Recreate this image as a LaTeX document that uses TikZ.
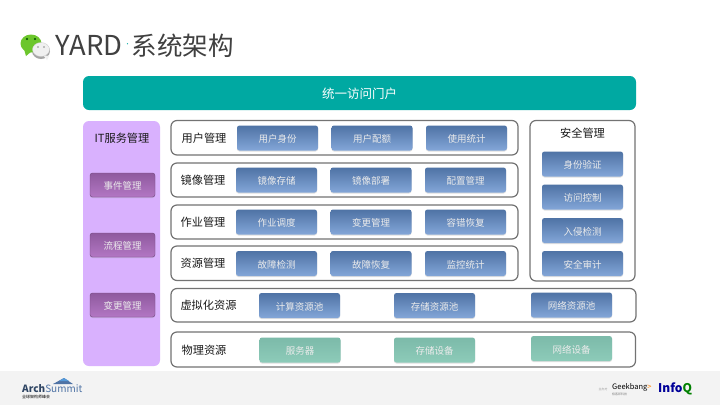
\documentclass[tikz,border=0pt]{standalone}
\usepackage{fontspec}
\setmainfont{Noto Sans CJK SC}
\usetikzlibrary{shadows}
\definecolor{tealbar}{HTML}{00A9A2}
\definecolor{lilac}{HTML}{D9B1FE}
\definecolor{footgray}{HTML}{F3F3F3}
\definecolor{titlegray}{HTML}{404040}
\definecolor{blue1}{HTML}{4F73A5}
\definecolor{blue2}{HTML}{83A6D8}
\definecolor{green1}{HTML}{7CBAA9}
\definecolor{green2}{HTML}{8DCBB9}
\definecolor{purp1}{HTML}{8F5A9E}
\definecolor{purp2}{HTML}{B377C4}
\definecolor{wechat}{HTML}{6CC62C}
\tikzset{
  frame/.style={draw=black!55,line width=1.2pt,fill=white,rounded corners=6pt,inner sep=0pt},
  btn/.style={rounded corners=2.5pt,inner sep=0pt,text=white!92!black,font=\fontsize{9.5}{12}\selectfont,
    text height=9.5pt,text depth=.3pt,
    drop shadow={shadow xshift=0pt,shadow yshift=-1pt,opacity=.25}},
  bluebtn/.style={btn,draw=none,top color=blue1,bottom color=blue2,minimum width=81pt,minimum height=25pt},
  greenbtn/.style={btn,draw=none,top color=green1,bottom color=green2,minimum width=81pt,minimum height=25pt},
  purpbtn/.style={btn,draw=purp1!80!black,top color=purp1,bottom color=purp2,minimum width=65pt,minimum height=24pt},
  lab/.style={text=black!90,font=\fontsize{11.2}{14}\selectfont,inner sep=0pt,text height=10pt,text depth=.6pt},
}
\begin{document}
\begin{tikzpicture}[x=1pt,y=-1pt]
 \useasboundingbox (0,0) rectangle (720,405);
 \fill[white] (0,0) rectangle (720,405);
 \fill[footgray] (0,371) rectangle (720,405);
 % title and logo
 \fill[black!35] (41,51) ellipse (9 and 8);
 \fill[wechat] (24,49)--(26,56)--(32,51)--cycle;
 \fill[wechat] (31,43.5) ellipse (10.5 and 9);
 \fill[black!70!green] (27,39) circle (1.1);
 \fill[black!70!green] (35,39) circle (1.1);
 \fill[white!94!black] (49,56)--(47,60)--(43,55)--cycle;
 \fill[white!94!black,draw=black!20,line width=.3pt] (41,49.5) ellipse (8.5 and 7);
 \fill[black!45] (38,47) circle (.8);
 \fill[black!45] (44,47) circle (.8);
 \node[text=titlegray,font=\fontsize{27.4}{30}\selectfont,anchor=west,inner sep=0pt] (yard) at (55.5,45.5) {YARD};
 \node[text=tealbar,font=\fontsize{6}{6}\selectfont,inner sep=0pt] (titledot) at (127.5,45) {·};
 \node[text=titlegray,font=\fontsize{25.5}{30}\selectfont,anchor=west,inner sep=0pt] (title) at (131.5,45.5) {系统架构};
 % top bar
 \node[fill=tealbar,rounded corners=6pt,minimum width=553pt,minimum height=34pt,inner sep=0pt,text=white,font=\fontsize{12.5}{14}\selectfont,text height=11.5pt,text depth=.3pt] (portal) at (359.5,93) {统一访问门户};
 % left panel
 \fill[lilac,rounded corners=6pt] (83,121) rectangle (160,366);
 \node[lab] (itlab) at (122,138) {IT服务管理};
 \node[purpbtn] (event) at (122.5,185) {事件管理};
 \node[purpbtn] (flow) at (122.5,245) {流程管理};
 \node[purpbtn] (change) at (122.5,305) {变更管理};
 % rows
 \draw[frame] (171,120.5) rectangle (518,155);
 \draw[frame] (171,163) rectangle (518,197);
 \draw[frame] (171,205) rectangle (518,239);
 \draw[frame] (171,246) rectangle (518,280.5);
 \draw[frame] (530,120.5) rectangle (635,281);
 \draw[frame] (171,288.5) rectangle (636,322);
 \draw[frame] (171,332) rectangle (635.5,367);
 \node[lab] (userlab) at (204,137.5) {用户管理};
 \node[bluebtn] (u1) at (277.5,138) {用户身份};
 \node[bluebtn] (u2) at (372,138) {用户配额};
 \node[bluebtn] (u3) at (466.5,138) {使用统计};
 \node[lab] (imglab) at (203,179.5) {镜像管理};
 \node[bluebtn] (i1) at (276.5,180) {镜像存储};
 \node[bluebtn] (i2) at (371,180) {镜像部署};
 \node[bluebtn] (i3) at (465.5,180) {配置管理};
 \node[lab] (joblab) at (203,221.5) {作业管理};
 \node[bluebtn] (j1) at (276.5,222) {作业调度};
 \node[bluebtn] (j2) at (371,222) {变更管理};
 \node[bluebtn] (j3) at (465.5,222) {容错恢复};
 \node[lab] (reslab) at (203,263) {资源管理};
 \node[bluebtn] (r1) at (276.5,263.5) {故障检测};
 \node[bluebtn] (r2) at (371,263.5) {故障恢复};
 \node[bluebtn] (r3) at (465.5,263.5) {监控统计};
 % security
 \node[lab] (seclab) at (582.5,133) {安全管理};
 \node[bluebtn] (s1) at (582.5,164) {身份验证};
 \node[bluebtn] (s2) at (582.5,197) {访问控制};
 \node[bluebtn] (s3) at (582.5,230.5) {入侵检测};
 \node[bluebtn] (s4) at (582.5,263.5) {安全审计};
 % bottom rows
 \node[lab] (virtlab) at (208.5,305) {虚拟化资源};
 \node[bluebtn] (v1) at (299.5,305.5) {计算资源池};
 \node[bluebtn] (v2) at (434.5,305.5) {存储资源池};
 \node[bluebtn] (v3) at (571.5,305) {网络资源池};
 \node[lab] (physlab) at (204,349.5) {物理资源};
 \node[greenbtn] (p1) at (300,350) {服务器};
 \node[greenbtn] (p2) at (434.5,350) {存储设备};
 \node[greenbtn] (p3) at (571.5,348.5) {网络设备};
 % footer logos
 \node[text=blue1!60!black,font=\fontsize{10}{10}\selectfont\bfseries,inner sep=0pt,anchor=west] (arch) at (22,388.5) {Arch\textcolor{blue1}{\mdseries Summit}};
 \fill[blue1] (53,384)--(64,378)--(73,384)--cycle;
 \fill[cyan!60!blue!70] (59,381)--(64,378)--(69,381)--cycle;
 \node[font=\fontsize{4}{4}\selectfont,inner sep=0pt,anchor=west] (archcn) at (22,396.5) {全球架构师峰会};
 \node[font=\fontsize{3}{3}\selectfont,text=black!40,inner sep=0pt] (host) at (603,389) {主办方};
 \node[font=\fontsize{7.5}{8}\selectfont,inner sep=0pt,anchor=west] (geek) at (612,387.5) {Geekbang\textcolor{orange}{>}};
 \node[font=\fontsize{3}{3}\selectfont,text=black!50,inner sep=0pt,anchor=west] (geekcn) at (612,394) {极客邦科技};
 \node[font=\fontsize{12}{12}\selectfont\bfseries,text=blue!60!black,inner sep=0pt,anchor=west] (infoq) at (658,389) {Info\textcolor{green!50!black}{Q}};
\end{tikzpicture}
\end{document}
